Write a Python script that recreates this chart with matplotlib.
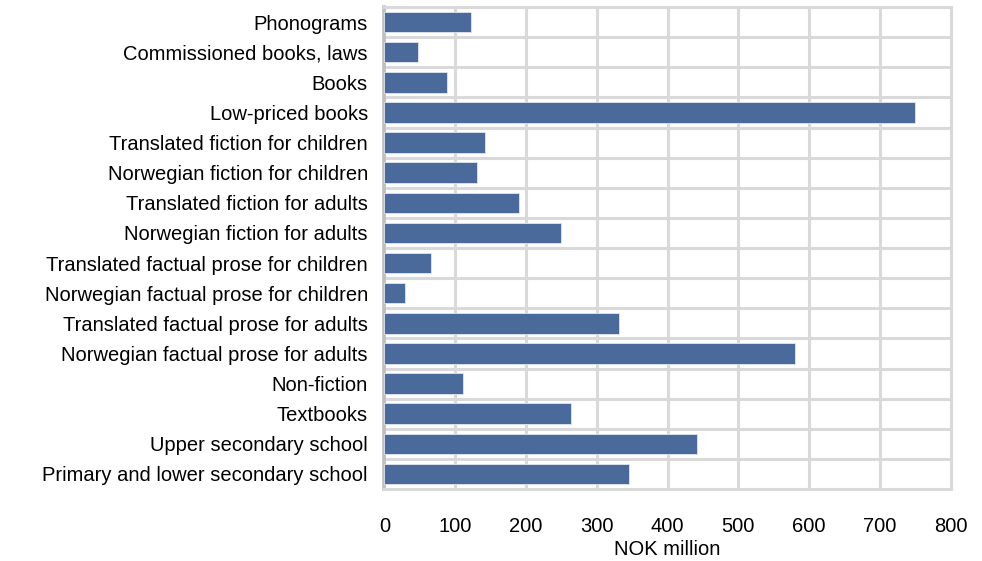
import matplotlib
matplotlib.use('Agg')
from matplotlib import pyplot as plt

plt.rcParams['font.family'] = ['Liberation Sans', 'DejaVu Sans']

# Data (top to bottom as shown)
categories = [
    'Phonograms',
    'Commissioned books, laws',
    'Books',
    'Low-priced books',
    'Translated fiction for children',
    'Norwegian fiction for children',
    'Translated fiction for adults',
    'Norwegian fiction for adults',
    'Translated factual prose for children',
    'Norwegian factual prose for children',
    'Translated factual prose for adults',
    'Norwegian factual prose for adults',
    'Non-fiction',
    'Textbooks',
    'Upper secondary school',
    'Primary and lower secondary school',
]
values = [122, 48, 88, 750, 142, 131, 190, 249, 66, 29, 331, 580, 111, 263, 441, 345]
x_ticks = [0, 100, 200, 300, 400, 500, 600, 700, 800]

fig = plt.figure(figsize=(9.82, 5.61), dpi=100)
ax = fig.add_axes([0.3915, 0.1283, 0.5765, 0.8592])

pos = list(range(len(categories)))
ax.barh(pos, values, height=0.68, color='#4a6a9c', edgecolor='#dfe6f0', linewidth=0.6, zorder=3)

ax.set_ylim(len(categories) - 0.5, -0.5)
ax.set_xlim(0, 800)
ax.set_yticks(pos)
ax.set_yticklabels(categories, fontsize=14.5)
ax.set_xticks(x_ticks)
ax.set_xticklabels([str(t) for t in x_ticks], fontsize=14.5)

# category boundary lines
ax.set_yticks([p + 0.5 for p in pos[:-1]], minor=True)
ax.grid(axis='y', which='minor', color='#d9d9d9', linewidth=2.2, zorder=0)
ax.grid(axis='x', which='major', color='#d9d9d9', linewidth=2.2, zorder=0)
ax.tick_params(axis='both', which='both', length=0)
ax.tick_params(axis='y', pad=12)
ax.tick_params(axis='x', pad=20)

for side in ['top', 'right', 'bottom']:
    ax.spines[side].set_color('#d9d9d9')
    ax.spines[side].set_linewidth(2.2)
ax.spines['left'].set_color('#bfbfbf')
ax.spines['left'].set_linewidth(2.6)

ax.set_xlabel('NOK million', fontsize=14.5, labelpad=3)

plt.savefig('out.png', dpi=100)
